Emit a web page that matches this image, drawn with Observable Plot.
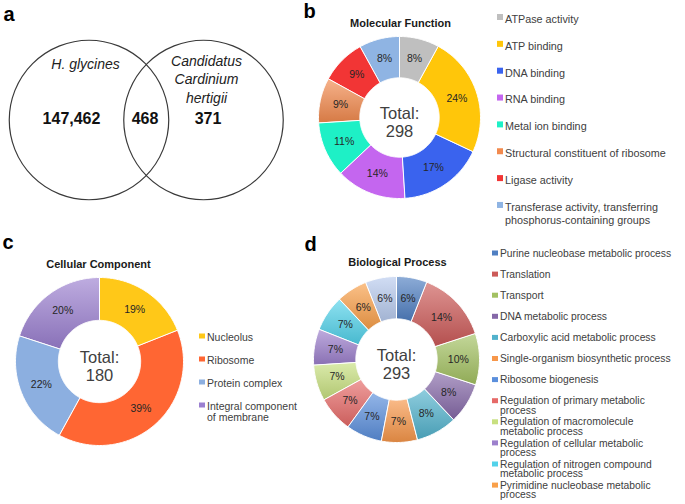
<!DOCTYPE html>
<html><head><meta charset="utf-8">
<script src="https://cdn.jsdelivr.net/npm/d3@7"></script>
<script src="https://cdn.jsdelivr.net/npm/@observablehq/plot@0.6"></script>
<style>
body{margin:0;background:#fff;}
#fig{position:relative;width:685px;height:504px;overflow:hidden;background:#fff;}
#fig svg{position:absolute;}
</style></head><body><div id="fig"></div>
<script>
// ---------------- data ----------------
const vennSets = ["H. glycines", "Candidatus\nCardinium\nhertigii"];
const vennOnlyA = 147462, vennShared = 468, vennOnlyB = 371;

const mfCategories = ["ATPase activity","ATP binding","DNA binding","RNA binding","Metal ion binding","Structural constituent of ribosome","Ligase activity","Transferase activity, transferring phosphorus-containing groups"];
const mfPercents = [8,24,17,14,11,9,9,8];
const mfTotal = 298;

const ccCategories = ["Nucleolus","Ribosome","Protein complex","Integral component of membrane"];
const ccPercents = [19,39,22,20];
const ccTotal = 180;

const bpCategories = ["Purine nucleobase metabolic process","Translation","Transport","DNA metabolic process","Carboxylic acid metabolic process","Single-organism biosynthetic process","Ribosome biogenesis","Regulation of primary metabolic process","Regulation of macromolecule metabolic process","Regulation of cellular metabolic process","Regulation of nitrogen compound metabolic process","Pyrimidine nucleobase metabolic process","Other"];
const bpPercents = [6,14,10,8,8,7,7,7,7,7,7,6,6];
const bpTotal = 293;

// ---------------- styles ----------------
const mfColors = ["#bfbfbf","#ffc60a","#3a63ee","#c466ef","#1ef0c6","#f28a4e","#f23535","#8fb4e3"];
const ccColors = ["#ffc818","#ff6633","#8cafe0","#9b80d0"];
const bpColors = ["#4f7fc2","#cc5a58","#a3c162","#8568a8","#52b2cc","#f7974a","#5b8fdc","#e66a68","#c8e080","#9c80cc","#52d2ea","#f9a04a","#b8cbee"];
const FONT = "Liberation Sans, Arial, sans-serif";
const TXT = "#404040";
const W = 685, H = 504;
const fig = document.getElementById("fig");

function wrap(s, max, noWrap) {
  if (s.length <= noWrap) return s;
  const words = s.split(" "); const lines = []; let cur = "";
  for (const w of words) {
    if (cur && (cur + " " + w).length > max) { lines.push(cur); cur = w; }
    else cur = cur ? cur + " " + w : w;
  }
  lines.push(cur); return lines.join("\n");
}

function legendMarks(cats, colors, n, {x0, y0, step, fs, lh, sw, sh, maxChars, noWrap}) {
  const items = cats.slice(0, n).map((c, i) => ({label: wrap(c, maxChars, noWrap), color: colors[i], y: y0 + i * step}));
  return [
    Plot.rect(items, {x1: x0, x2: x0 + sw, y1: d => d.y - sh / 2, y2: d => d.y + sh / 2, fill: "color"}),
    Plot.text(items, {x: x0 + sw + 1.5, y: "y", text: "label", textAnchor: "start", lineAnchor: "top",
      dy: -0.36 * fs, fontSize: fs, lineHeight: lh, fill: TXT, fontFamily: FONT})
  ];
}

// ---------------- base layer: venn, letters, titles, legends ----------------
const letters = [{t: "a", x: 3, y: 20}, {t: "b", x: 303, y: 17}, {t: "c", x: 2, y: 248}, {t: "d", x: 304, y: 250}];
const titles = [{t: "Molecular Function", x: 400, y: 26}, {t: "Cellular Component", x: 98, y: 267}, {t: "Biological Process", x: 397, y: 265}];
const vennCircles = [{x: 88.5, y: 119.5}, {x: 203, y: 119.5}];
const vennNames = [{t: vennSets[0], x: 85, y: 68}, {t: vennSets[1], x: 206, y: 102}];
const fmt = d3.format(",");
const vennNums = [{t: fmt(vennOnlyA), x: 71}, {t: fmt(vennShared), x: 144.5}, {t: fmt(vennOnlyB), x: 207.5}];

const base = Plot.plot({
  width: W, height: H, margin: 0,
  x: {domain: [0, W], axis: null}, y: {domain: [H, 0], axis: null},
  color: {type: "identity"},
  style: {fontFamily: FONT, background: "transparent"},
  marks: [
    Plot.dot(vennCircles, {x: "x", y: "y", r: 79.75, stroke: "#3a3a3a", strokeWidth: 1.2, fill: "none"}),
    Plot.text(vennNames, {x: "x", y: "y", text: "t", fontStyle: "italic", fontSize: 14, lineHeight: 1.32, lineAnchor: "bottom", fill: "#222"}),
    Plot.text(vennNums, {x: "x", y: 123.5, text: "t", fontWeight: "bold", fontSize: 16, lineAnchor: "bottom", fill: "#111"}),
    Plot.text(letters, {x: "x", y: "y", text: "t", textAnchor: "start", fontWeight: "bold", fontSize: 20, lineAnchor: "bottom", fill: "#000"}),
    Plot.text(titles, {x: "x", y: "y", text: "t", fontWeight: "bold", fontSize: 11, lineAnchor: "bottom", fill: "#1a1a1a"}),
    ...legendMarks(mfCategories, mfColors, mfCategories.length, {x0: 497, y0: 17, step: 26.85, fs: 10.8, lh: 1.2, sw: 6, sh: 6, maxChars: 34, noWrap: 34}),
    ...legendMarks(ccCategories, ccColors, ccCategories.length, {x0: 199, y0: 336, step: 23, fs: 10.5, lh: 1.05, sw: 6, sh: 5, maxChars: 20, noWrap: 20}),
    ...legendMarks(bpCategories, bpColors, 12, {x0: 492, y0: 253, step: 21.1, fs: 10.3, lh: 0.93, sw: 6, sh: 5, maxChars: 32, noWrap: 36})
  ]
});
base.style.left = "0px"; base.style.top = "0px";
fig.appendChild(base);

// ---------------- donuts ----------------
let gid = 0;
function donut(cats, vals, colors, total, {cx, cy, R, hole, shaded}) {
  const pad = 2, size = 2 * (R + pad);
  const A = 30;
  const latOut = 90 - A, latIn = 90 - A * hole, latMid = 90 - A * (1 + hole) / 2;
  const sum = d3.sum(vals), cum = d3.cumsum(vals);
  const lon = a => 180 - a;
  const pre = "g" + (gid++) + "_";
  const slices = vals.map((v, i) => ({cat: cats[i], v, i, a0: (cum[i] - v) / sum * 360, a1: cum[i] / sum * 360,
    fill: shaded(i) ? `url(#${pre}${i})` : colors[i]}));
  const feats = slices.map(s => {
    const n = Math.max(2, Math.ceil(s.a1 - s.a0));
    const outer = d3.range(n + 1).map(k => [lon(s.a0 + (s.a1 - s.a0) * k / n), latOut]);
    const inner = d3.range(n, -1, -1).map(k => [lon(s.a0 + (s.a1 - s.a0) * k / n), latIn]);
    return {type: "Feature", properties: s, geometry: {type: "Polygon", coordinates: [[...outer, ...inner, outer[0]]]}};
  });
  const domain = d3.geoCircle().center([0, 90]).radius(A)();
  const defs = () => {
    const d = d3.create("svg:defs");
    colors.forEach((c, i) => {
      const g = d.append("linearGradient").attr("id", pre + i).attr("x1", 0).attr("y1", 0).attr("x2", 0).attr("y2", 1);
      g.append("stop").attr("offset", 0).attr("stop-color", d3.interpolateRgb(c, "#fff")(0.35));
      g.append("stop").attr("offset", 1).attr("stop-color", d3.color(c).darker(0.35));
    });
    return d.node();
  };
  const svg = Plot.plot({
    width: size, height: size, margin: 0,
    projection: {type: "azimuthal-equidistant", rotate: [0, -90], domain, inset: pad},
    color: {type: "identity"},
    style: {fontFamily: FONT, background: "transparent"},
    marks: [
      defs,
      Plot.geo(feats, {fill: d => d.properties.fill, stroke: "#fff", strokeWidth: 1}),
      Plot.text(slices, {x: d => lon((d.a0 + d.a1) / 2), y: latMid, text: d => d.v + "%", fontSize: 10.5, fill: "#262626"}),
      Plot.text(["Total:"], {x: 0, y: 90, text: d => d, lineAnchor: "bottom", dy: 1, fontSize: 16.5, fill: TXT}),
      Plot.text([total], {x: 0, y: 90, text: d => String(d), lineAnchor: "bottom", dy: 19, fontSize: 16.5, fill: TXT})
    ]
  });
  svg.style.left = (cx - size / 2) + "px"; svg.style.top = (cy - size / 2) + "px";
  fig.appendChild(svg);
}

donut(mfCategories, mfPercents, mfColors, mfTotal, {cx: 399, cy: 116.5, R: 81, hole: 0.49, shaded: i => i === 5});
donut(ccCategories, ccPercents, ccColors, ccTotal, {cx: 99, cy: 360.5, R: 84, hole: 0.49, shaded: i => i === 3});
donut(bpCategories, bpPercents, bpColors, bpTotal, {cx: 395.5, cy: 358.5, R: 83, hole: 0.49, shaded: i => true});
</script></body></html>
